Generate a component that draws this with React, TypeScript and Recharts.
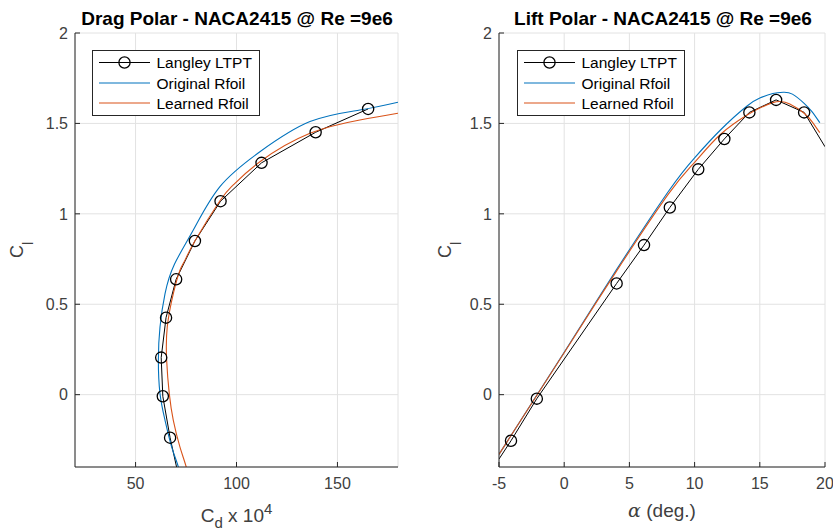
import React from 'react';
import { LineChart, Line, XAxis, YAxis, CartesianGrid } from 'recharts';

// ---------- Drag polar (Cd x 1e4 vs Cl) ----------
const dragLangleyCd = [67.1, 63.5, 62.7, 65.1, 70.1, 79.4, 92.1, 112.4, 139.2, 165.2];
const dragLangleyCl = [-0.238, -0.009, 0.205, 0.426, 0.638, 0.85, 1.07, 1.282, 1.451, 1.58];
// the measured line continues below the axis floor
const dragLangleyLineCd = [72.3, 67.1, 63.5, 62.7, 65.1, 70.1, 79.4, 92.1, 112.4, 139.2, 165.2];
const dragLangleyLineCl = [-0.5, -0.238, -0.009, 0.205, 0.426, 0.638, 0.85, 1.07, 1.282, 1.451, 1.58];

const dragOriginalCd = [73.0, 71.2, 67.9, 64.6, 62.1, 61.3, 62.1, 64.6, 69.2, 78.6, 91.8, 111.6, 136.4, 161.1, 180.0];
const dragOriginalCl = [-0.5, -0.4, -0.29, -0.142, 0.006, 0.19, 0.374, 0.559, 0.72, 0.91, 1.15, 1.343, 1.51, 1.574, 1.617];

const dragLearnedCd = [77.0, 75.1, 72.0, 68.7, 66.7, 65.4, 65.7, 68.7, 72.0, 74.5, 79.4, 91.8, 98.4, 111.6, 136.4, 161.1, 180.0];
const dragLearnedCl = [-0.5, -0.4, -0.29, -0.142, 0.006, 0.19, 0.374, 0.559, 0.688, 0.744, 0.85, 1.072, 1.16, 1.288, 1.445, 1.519, 1.556];

const dragXTicks = [50, 100, 150];
const yTicks = [0, 0.5, 1, 1.5, 2];

// ---------- Lift polar (alpha vs Cl) ----------
const liftLangleyAlpha = [-4.08, -2.1, 4.02, 6.12, 8.1, 10.28, 12.28, 14.2, 16.25, 18.4];
const liftLangleyCl = [-0.255, -0.022, 0.615, 0.827, 1.035, 1.246, 1.414, 1.561, 1.63, 1.561];
const liftLangleyLineAlpha = [-5, -4.08, -2.1, 4.02, 6.12, 8.1, 10.28, 12.28, 14.2, 16.25, 18.4, 20];
const liftLangleyLineCl = [-0.356, -0.255, -0.022, 0.615, 0.827, 1.035, 1.246, 1.414, 1.561, 1.63, 1.561, 1.371];

const liftOriginalAlpha = [-5, 0, 4, 8, 10, 12, 14, 15, 16, 16.8, 17.5, 18.4, 19, 19.6];
const liftOriginalCl = [-0.33, 0.235, 0.69, 1.125, 1.31, 1.465, 1.595, 1.64, 1.665, 1.672, 1.662, 1.611, 1.565, 1.504];

const liftLearnedAlpha = [-5, 0, 4, 8, 10, 12, 14, 15, 16, 16.6, 17.3, 18.4, 19, 19.6];
const liftLearnedCl = [-0.33, 0.232, 0.682, 1.11, 1.285, 1.44, 1.545, 1.585, 1.615, 1.621, 1.607, 1.556, 1.51, 1.449];

const liftXTicks = [-5, 0, 5, 10, 15, 20];

const legendNames = ['Langley LTPT', 'Original Rfoil', 'Learned Rfoil'];

// ---------- styles ----------
const FONT = '"Liberation Sans", Arial, Helvetica, sans-serif';
const BLUE = '#0072BD';
const ORANGE = '#D95319';
const AXIS = '#262626';
const TICKTXT = '#404040';

const zip = (xs: number[], ys: number[]) => xs.map((x, i) => ({ x, y: ys[i] }));

const MarkerDot = (props: any) => {
  const { cx, cy, index } = props;
  if (cx == null || cy == null) return <g key={index} />;
  return <circle key={index} cx={cx} cy={cy} r={5.6} fill="none" stroke="#000" strokeWidth={1.3} />;
};

const tickStyle = { fill: TICKTXT, fontSize: 16, fontFamily: FONT };

function LegendBox({ left, top }: { left: number; top: number }) {
  const rows = [12.5, 33, 53];
  const colors = ['#000', BLUE, ORANGE];
  return (
    <svg
      width={170}
      height={67}
      style={{ position: 'absolute', left, top, overflow: 'visible' }}
    >
      <rect x={0.5} y={0.5} width={167} height={65} fill="#fff" stroke={AXIS} strokeWidth={1} />
      {legendNames.map((name, i) => (
        <g key={name}>
          <line x1={7} x2={58} y1={rows[i]} y2={rows[i]} stroke={colors[i]} strokeWidth={1.1} />
          {i === 0 && <circle cx={32.5} cy={rows[i]} r={5.6} fill="none" stroke="#000" strokeWidth={1.3} />}
          <text x={64.5} y={rows[i] + 5.6} fontSize={15.5} fontFamily={FONT} fill="#000">
            {name}
          </text>
        </g>
      ))}
    </svg>
  );
}

function Title({ cx, text }: { cx: number; text: string }) {
  return (
    <svg width={833} height={30} style={{ position: 'absolute', left: 0, top: 0 }}>
      <text x={cx} y={25} textAnchor="middle" fontSize={19} fontWeight="bold" fontFamily={FONT} fill="#000">
        {text}
      </text>
    </svg>
  );
}

function DragChart() {
  return (
    <LineChart width={416} height={531} margin={{ top: 33, right: 18, bottom: 0, left: 0 }}>
      <CartesianGrid stroke="#e2e2e2" strokeWidth={1} />
      <XAxis
        type="number"
        dataKey="x"
        domain={[20, 180]}
        ticks={dragXTicks}
        allowDataOverflow
        height={64}
        tickSize={-5}
        tickMargin={16}
        axisLine={{ stroke: AXIS }}
        tickLine={{ stroke: AXIS }}
        tick={tickStyle}
        label={{
          content: (p: any) => {
            const vb = p.viewBox;
            const cx = vb.x + vb.width / 2;
            return (
              <text x={cx} y={522} textAnchor="middle" fontSize={19} fontFamily={FONT} fill={TICKTXT}>
                C<tspan fontSize={15} dy={6}>d</tspan>
                <tspan fontSize={19} dy={-6}> x 10</tspan>
                <tspan fontSize={15} dy={-8}>4</tspan>
              </text>
            );
          },
        }}
      />
      <YAxis
        type="number"
        dataKey="y"
        domain={[-0.4, 2]}
        ticks={yTicks}
        allowDataOverflow
        width={75}
        tickSize={-5}
        tickMargin={12}
        axisLine={{ stroke: AXIS }}
        tickLine={{ stroke: AXIS }}
        tick={tickStyle}
        label={{
          content: (p: any) => {
            const vb = p.viewBox;
            const cy = vb.y + vb.height / 2;
            return (
              <text transform={`translate(23, ${cy}) rotate(-90)`} textAnchor="middle" fontSize={18} fontFamily={FONT} fill={TICKTXT}>
                C<tspan fontSize={14} dy={10}>l</tspan>
              </text>
            );
          },
        }}
      />
      <Line data={zip(dragLangleyLineCd, dragLangleyLineCl)} dataKey="y" type="linear" stroke="#000" strokeWidth={1} dot={false} isAnimationActive={false} />
      <Line data={zip(dragLangleyCd, dragLangleyCl)} dataKey="y" type="linear" stroke="none" dot={MarkerDot} isAnimationActive={false} />
      <Line data={zip(dragOriginalCd, dragOriginalCl)} dataKey="y" type="natural" stroke={BLUE} strokeWidth={1.1} dot={false} isAnimationActive={false} />
      <Line data={zip(dragLearnedCd, dragLearnedCl)} dataKey="y" type="natural" stroke={ORANGE} strokeWidth={1.1} dot={false} isAnimationActive={false} />
    </LineChart>
  );
}

function LiftChart() {
  return (
    <LineChart width={417} height={531} margin={{ top: 33, right: 8, bottom: 0, left: 0 }}>
      <CartesianGrid stroke="#e2e2e2" strokeWidth={1} />
      <XAxis
        type="number"
        dataKey="x"
        domain={[-5, 20]}
        ticks={liftXTicks}
        allowDataOverflow
        height={64}
        tickSize={-5}
        tickMargin={16}
        axisLine={{ stroke: AXIS }}
        tickLine={{ stroke: AXIS }}
        tick={tickStyle}
        label={{
          content: (p: any) => {
            const vb = p.viewBox;
            const cx = vb.x + vb.width / 2;
            return (
              <text x={cx} y={517} textAnchor="middle" fontSize={19} fontFamily={FONT} fill={TICKTXT}>
                <tspan fontFamily='"DejaVu Serif", serif' fontStyle="italic">α</tspan> (deg.)
              </text>
            );
          },
        }}
      />
      <YAxis
        type="number"
        dataKey="y"
        domain={[-0.4, 2]}
        ticks={yTicks}
        allowDataOverflow
        width={83}
        tickSize={-5}
        tickMargin={12}
        axisLine={{ stroke: AXIS }}
        tickLine={{ stroke: AXIS }}
        tick={tickStyle}
        label={{
          content: (p: any) => {
            const vb = p.viewBox;
            const cy = vb.y + vb.height / 2;
            return (
              <text transform={`translate(35, ${cy}) rotate(-90)`} textAnchor="middle" fontSize={18} fontFamily={FONT} fill={TICKTXT}>
                C<tspan fontSize={14} dy={10}>l</tspan>
              </text>
            );
          },
        }}
      />
      <Line data={zip(liftLangleyLineAlpha, liftLangleyLineCl)} dataKey="y" type="linear" stroke="#000" strokeWidth={1} dot={false} isAnimationActive={false} />
      <Line data={zip(liftLangleyAlpha, liftLangleyCl)} dataKey="y" type="linear" stroke="none" dot={MarkerDot} isAnimationActive={false} />
      <Line data={zip(liftOriginalAlpha, liftOriginalCl)} dataKey="y" type="natural" stroke={BLUE} strokeWidth={1.1} dot={false} isAnimationActive={false} />
      <Line data={zip(liftLearnedAlpha, liftLearnedCl)} dataKey="y" type="natural" stroke={ORANGE} strokeWidth={1.1} dot={false} isAnimationActive={false} />
    </LineChart>
  );
}

export default function App() {
  return (
    <div style={{ position: 'absolute', left: 0, top: 0, width: 833, height: 531, background: '#fff', fontFamily: FONT }}>
      <div style={{ position: 'absolute', left: 0, top: 0 }}>
        <DragChart />
      </div>
      <div style={{ position: 'absolute', left: 416, top: 0 }}>
        <LiftChart />
      </div>
      <Title cx={237} text="Drag Polar - NACA2415 @ Re =9e6" />
      <Title cx={663} text="Lift Polar - NACA2415 @ Re =9e6" />
      <LegendBox left={92} top={50} />
      <LegendBox left={517} top={50} />
    </div>
  );
}
